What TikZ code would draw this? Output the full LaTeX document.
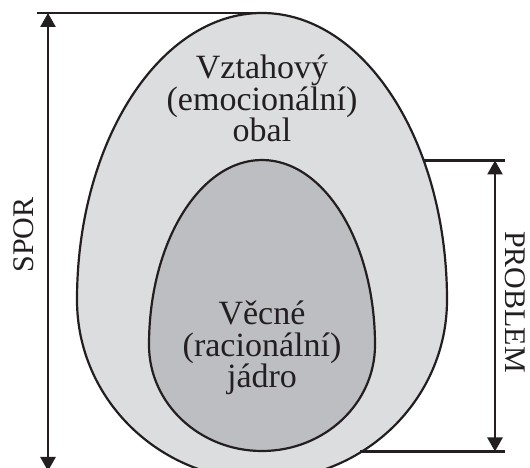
\documentclass[tikz,border=0pt]{standalone}
\usepackage{fontspec}
\setmainfont{Liberation Serif}
\usetikzlibrary{arrows.meta}
\definecolor{ink}{HTML}{231F20}
\definecolor{shellfill}{HTML}{DCDDDF}
\definecolor{corefill}{HTML}{BDBEC1}
\begin{document}
\begin{tikzpicture}[x=1pt,y=1pt,
  eggline/.style={draw=ink,line width=2.2pt},
  guide/.style={draw=ink,line width=2.3pt},
  dimarrow/.style={draw=ink,line width=2.6pt,{Triangle[width=15pt,length=14pt]}-{Triangle[width=15pt,length=14pt]}},
  bigtext/.style={font=\fontsize{34}{31.5}\selectfont,align=center,text=ink,inner sep=0pt},
  sidetext/.style={font=\fontsize{30}{30}\selectfont,text=ink,inner sep=0pt}
]
\useasboundingbox (0,0) rectangle (530,468);
% outer shell
\path[eggline,fill=shellfill] (77,168)
  arc[start angle=180,end angle=0,x radius=185,y radius=287]
  arc[start angle=0,end angle=-180,x radius=185,y radius=180] -- cycle;
% inner core
\path[eggline,fill=corefill] (149,123)
  arc[start angle=180,end angle=0,x radius=113,y radius=185]
  arc[start angle=0,end angle=-180,x radius=113,y radius=106] -- cycle;
% guide coordinates
\coordinate (sporLineL) at (37,455);
\coordinate (eggTop) at (265,455);
\coordinate (sporTop) at (48,455);
\coordinate (sporBot) at (48,-3);
\coordinate (probLineTL) at (423,307.5);
\coordinate (probLineTR) at (505,307.5);
\coordinate (probTop) at (495,307.5);
\coordinate (probBot) at (495,16.5);
\coordinate (probLineBL) at (360,16.5);
\coordinate (probLineBR) at (505,16.5);
\draw[guide] (sporLineL) -- (eggTop);
\draw[guide] (probLineTL) -- (probLineTR);
\draw[guide] (probLineBL) -- (probLineBR);
\draw[dimarrow] (sporTop) -- (sporBot);
\draw[dimarrow] (probTop) -- (probBot);
% labels (base anchor = baseline of the last line)
\node[bigtext,anchor=base] (shell) at (262,326) {Vztahový\\(emocionální)\\obal};
\node[bigtext,anchor=base] (core) at (262,80) {Věcné\\(racionální)\\jádro};
\node[sidetext,rotate=90] (spor) at (24,233) {SPOR};
\node[sidetext,rotate=-90] (problem) at (515,166) {PROBLEM};
\end{tikzpicture}
\end{document}
